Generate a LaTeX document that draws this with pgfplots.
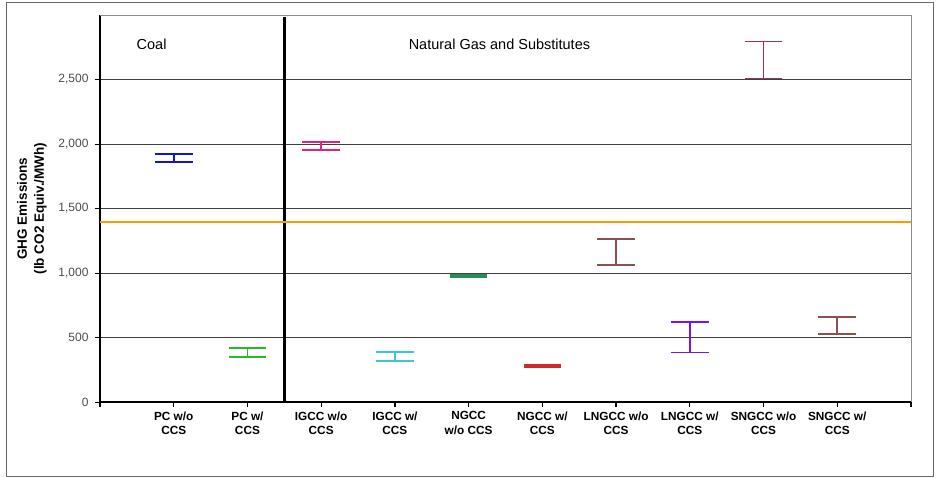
\documentclass[border=0pt]{standalone}
\usepackage{fontspec}
\setmainfont{Liberation Sans}
\usepackage{pgfplots}
\pgfplotsset{compat=1.18}

\definecolor{cPCa}{RGB}{20,20,200}
\definecolor{cPCb}{RGB}{40,185,40}
\definecolor{cIGa}{RGB}{230,30,130}
\definecolor{cIGb}{RGB}{60,200,200}
\definecolor{cNGa}{RGB}{40,140,90}
\definecolor{cNGb}{RGB}{210,40,40}
\definecolor{cLNa}{RGB}{140,80,80}
\definecolor{cLNb}{RGB}{110,20,255}
\definecolor{cSNa}{RGB}{150,50,100}
\definecolor{cSNb}{RGB}{140,80,80}
\definecolor{cLimit}{RGB}{255,155,0}

% one range: colour, x, low, high
\newcommand{\rangebar}[4]{%
    \addplot[range=#1] table[row sep=\\, x=x,
        y expr={(\thisrow{lo}+\thisrow{hi})/2},
        y error expr={(\thisrow{hi}-\thisrow{lo})/2}]
        {x lo hi\\ #2 #3 #4\\};
}

\begin{document}
\begin{tikzpicture}
    \begin{axis}[
            scale only axis,
            width=811pt, height=387pt,
            xmin=0, xmax=11,
            ymin=0, ymax=3000,
            axis x line*=bottom, axis y line*=left,
            axis line style={black, line width=1.6pt},
            tick align=outside,
            major tick length=5pt,
            xtick={0,...,11},
            xticklabels={{},{PC w/o\\CCS},{PC w/\\CCS},{IGCC w/o\\CCS},{IGCC w/\\CCS},
                {NGCC\\w/o CCS},{NGCC w/\\CCS},{LNGCC w/o\\CCS},{LNGCC w/\\CCS},
                {SNGCC w/o\\CCS},{SNGCC w/\\CCS},{}},
            x tick label style={align=center, font=\bfseries\fontsize{11.8}{14.5}\selectfont, yshift=-1pt},
            x tick style={black, line width=1.2pt},
            ytick={0,500,...,2500},
            y tick style={black, line width=1pt},
            y tick label style={font=\fontsize{12}{14}\selectfont, text=black!70, xshift=-3pt},
            /pgf/number format/.cd, 1000 sep={,}, assume math mode=true,
            /pgfplots/.cd,
            ymajorgrids,
            grid style={black!75, line width=0.8pt},
            ylabel={GHG Emissions\\(lb CO2 Equiv./MWh)},
            ylabel style={at={(rel axis cs:0,0.5)}, anchor=center, yshift=68pt,
                align=center, font=\bfseries\fontsize{13.5}{17}\selectfont},
            range/.style={draw=#1, color=#1, mark=none,
                error bars/.cd, y dir=both, y explicit,
                error bar style={draw=#1, line width=1.6pt},
                error mark options={draw=#1, rotate=90, line width=1.8pt, mark size=18.8pt}},
            clip=false,
        ]
        \draw[black!45, line width=0.8pt] (rel axis cs:0,1) -- (rel axis cs:1,1) -- (rel axis cs:1,0);
        % divider between coal and gas
        \addplot[black, line width=3.6pt, dash pattern=on 2.2pt off 0.3pt] coordinates {(2.5,0) (2.5,2985)};
        % limit line
        \addplot[cLimit, line width=2.2pt] coordinates {(0,1393) (11,1393)};

        \rangebar{cPCa}{1}{1862}{1922}
        \rangebar{cPCb}{2}{346}{420}
        \rangebar{cIGa}{3}{1955}{2015}
        \rangebar{cIGb}{4}{320}{386}
        \rangebar{cNGa}{5}{967}{982}
        \rangebar{cNGb}{6}{271}{285}
        \rangebar{cLNa}{7}{1060}{1265}
        \rangebar{cLNb}{8}{384}{622}
        \rangebar{cSNa}{9}{2508}{2795}
        \rangebar{cSNb}{10}{528}{661}

        \node[anchor=west, font=\fontsize{14.5}{16}\selectfont] at (axis cs:0.45,2770) {Coal};
        \node[anchor=west, font=\fontsize{14.5}{16}\selectfont] at (axis cs:4.14,2770) {Natural Gas and Substitutes};
    \end{axis}
    \draw[black!60, line width=0.8pt] ([shift={(-94pt,-74pt)}]current axis.south west)
        rectangle ([shift={(833pt,400pt)}]current axis.south west);
    \path ([shift={(-100pt,-75pt)}]current axis.south west)
        rectangle ([shift={(836pt,402pt)}]current axis.south west);
\end{tikzpicture}
\end{document}
